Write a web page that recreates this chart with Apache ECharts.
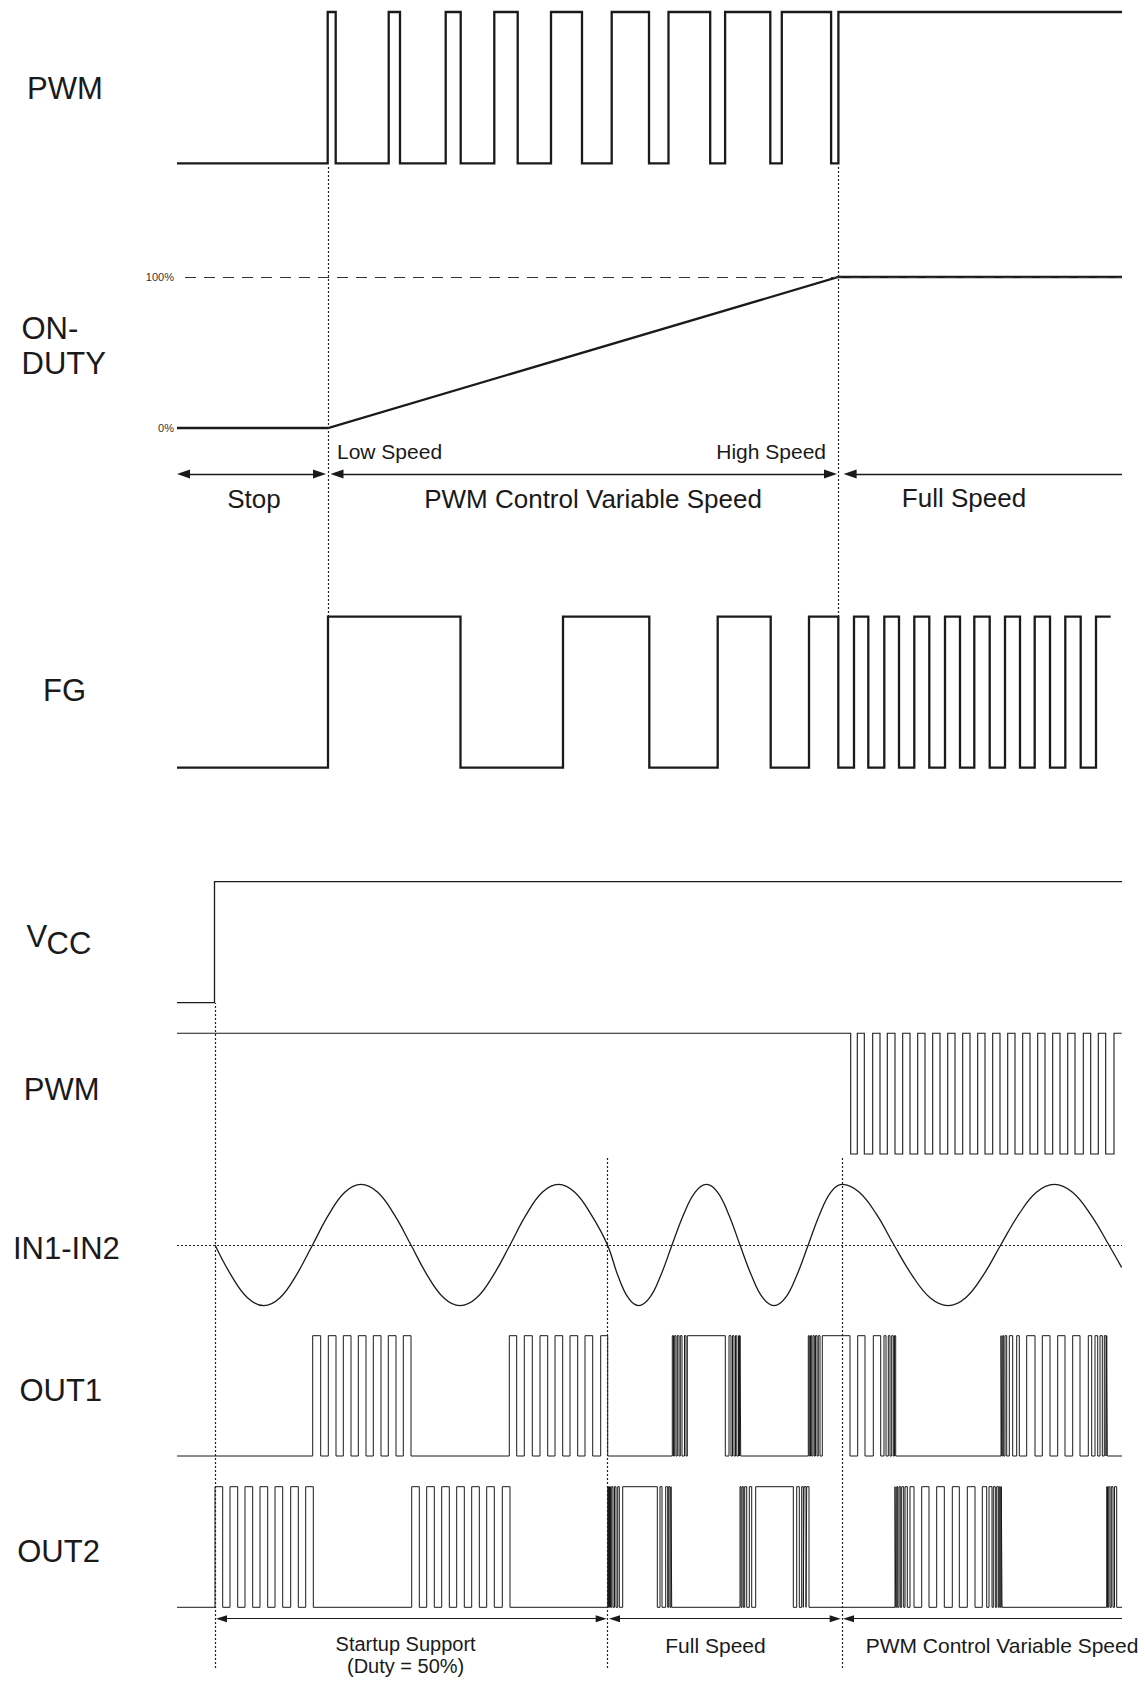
<!DOCTYPE html>
<html><head><meta charset="utf-8">
<script src="https://cdn.jsdelivr.net/npm/echarts@6/dist/echarts.min.js"></script>
<style>html,body{margin:0;padding:0;background:#fff}#c{width:1145px;height:1686px}</style>
</head><body><div id="c"></div><script>
// ---------- data (time units on a common horizontal scale) ----------
const timeRange = [177, 1122];
// top section
const topPwmHigh = [[327.7,335.7],[388.7,400],[445.7,460.7],[494.3,517.7],[551,582],[611.7,649],[668.5,710.2],[725.1,770.3],[781.8,831.1],[838.4,1122]];
const dutyTime = [177, 328, 838.4, 1122];
const dutyValue = [0, 0, 100, 100];
const dutyTicks = [0, 100];
const fgHigh = [[328,460.5],[563,649.3],[717.7,770.7],[809,838.3],[854,868.3],[884.3,899],[914.3,929.3],[945,960],[974.3,989.7],[1005,1020],[1034.7,1050],[1065.3,1080.7],[1096,1110.7]];
const fgEnd = 1110.7;
const topMarks = [328, 838.4];
const topArrows = [[177,326,'both'],[330.5,837,'both'],[843.6,1122,'left']];
// bottom section
const vccHigh = [[214.5,1122]];
const botPwmHigh = [[177,850.7],[857.3,864.3],[872.7,880],[887.3,895],[902.7,910],[917.7,925],[932.7,940],[947.7,955],[962.7,970],[977.7,985],[992.7,1000],[1007.7,1015],[1022.7,1030],[1037.7,1045],[1052.7,1060],[1067.7,1075],[1083.3,1090.7],[1098.3,1105.7],[1114,1121.7]];
const botPwmEnd = 1121.7;
// IN1-IN2 readings (normalised amplitude) along the curve
const inTime = [215,231.2,247.5,263.7,280,296.2,312.5,328.7,344.8,361,377.7,394.3,411,427.3,443.7,460,476.7,493.3,510,526.2,542.3,558.5,574.8,591.2,607.5,
  617.8,628.2,638.5,649.7,660.8,672,683.5,695,706.5,717.7,728.8,740,751.4,762.7,774.1,785.5,796.8,808.2,819.5,830.7,842,
  859.3,876.7,894,912.1,930.1,948.2,965.7,983.2,1000.7,1018.6,1036.4,1054.3,1072.5,1090.7,1108.9,1121.6];
const inValue = [0,-0.5,-0.87,-1,-0.87,-0.5,0,0.5,0.87,1,0.87,0.5,0,-0.5,-0.87,-1,-0.87,-0.5,0,0.5,0.87,1,0.87,0.5,0,
  -0.5,-0.87,-1,-0.87,-0.5,0,0.5,0.87,1,0.87,0.5,0,-0.5,-0.87,-1,-0.87,-0.5,0,0.5,0.87,1,
  0.87,0.5,0,-0.5,-0.87,-1,-0.87,-0.5,0,0.5,0.87,1,0.87,0.5,0,-0.37];
const out1High = [
 [312.7,320.7],[328.3,336],[343.3,351],[358.3,366],[373.3,381],[388.3,396],[403.3,411],
 [509.3,516.7],[524.3,532.3],[540,547.7],[555,562.7],[570,577.7],[585,592.7],[600.7,607.7],
 [672.3,673.5],[674.7,676],[677.3,679],[680.3,682],[684.5,686],[687.3,725.3],[729,731],[732.5,734],[735.5,736.8],[738.5,739.5],[740,740.7],
 [808.3,809.3],[810.5,811.7],[813,814.3],[815.5,817],[818.3,820],[822.3,850],[857.7,865],[873.3,880.7],[884,886],[888.3,890],[891.7,893.3],[894.5,895.7],
 [1001,1001.7],[1002.7,1003.7],[1005,1006.7],[1009.3,1012.7],[1016.7,1019.3],[1026.7,1035],[1042.3,1050],[1057.7,1065],[1072.7,1080],[1088.3,1091.7],[1095,1097.7],[1100,1102.3],[1104.3,1106],[1106.7,1107.3]
];
const out2High = [
 [215,222.7],[230,237.7],[245,252.7],[260,267.7],[275,282.7],[290.7,298.3],[305.7,313.3],
 [411.7,419.3],[426.7,434.3],[441.7,449.3],[456.7,464.3],[471.7,479.3],[486.7,494.3],[502.3,510],
 [607.7,608.5],[609.5,610.5],[611.7,613],[614.5,616],[617.7,619.3],[622.7,657.3],[660,662],[665.7,667.7],[668.7,670],[671,671.7],
 [740,741],[742,743.3],[744.7,746.7],[749.3,751.7],[755.7,793.3],[796.7,799.3],[801.7,803.3],[804,806],[806.7,809],
 [895,895.7],[896.7,897.7],[899,900.3],[901.7,903.7],[905,907.3],[910,914],[921.7,929],[936.7,944.3],[952.3,959.3],[967.3,975],[982.3,986.7],[989,992],[993.3,995.3],[996.7,998.3],[999.3,1000.3],[1001.3,1002],
 [1106.7,1107.5],[1108.7,1110],[1111.3,1113],[1114.5,1116.7]
];
const startMark = [215];
const phaseMarks = [607.5, 842.4];
const botArrows = [[216,606.7,'both'],[609,840.7,'both'],[843,1122,'left']];

// ---------- helpers ----------
function steps(intervals, start, end) {
  const pts = [];
  if (intervals[0][0] > start) pts.push([start, 0]);
  intervals.forEach(function (iv) {
    const r = iv[0], f = iv[1];
    if (r > start) pts.push([r, 0]);
    pts.push([r, 1]); pts.push([f, 1]);
    if (f < end) pts.push([f, 0]);
  });
  if (intervals[intervals.length - 1][1] < end) pts.push([end, 0]);
  return pts;
}
const FONT = '"Liberation Sans", Arial, Helvetica, sans-serif';
const INK = '#1a1a1a';
const grids = [], xAxes = [], yAxes = [], series = [];
function addGrid(top, height, ymin, ymax, yExtra) {
  const i = grids.length;
  grids.push({left: 177, width: 945, top: top, height: height, containLabel: false});
  xAxes.push({type: 'value', gridIndex: i, min: timeRange[0], max: timeRange[1], show: false});
  yAxes.push(Object.assign({type: 'value', gridIndex: i, min: ymin, max: ymax, show: false}, yExtra || {}));
  return i;
}
function wave(i, data, width, extra) {
  series.push(Object.assign({
    type: 'line', xAxisIndex: i, yAxisIndex: i, data: data, symbol: 'none', showSymbol: false,
    clip: false, animation: false, silent: true,
    lineStyle: {color: INK, width: width, join: 'miter'}
  }, extra || {}));
}
function arrowRow(i, list, size, width) {
  series.push({
    type: 'line', xAxisIndex: i, yAxisIndex: i, data: [], animation: false, silent: true,
    markLine: {
      silent: true, animation: false, label: {show: false},
      lineStyle: {color: INK, width: width, type: 'solid'},
      data: list.map(function (a) {
        const h = size[1] / 2;
        const from = a[0] + h;
        const to = a[2] === 'both' ? a[1] - h : a[1];
        return [
          {coord: [from, 0.5], symbol: 'triangle', symbolSize: size},
          {coord: [to, 0.5], symbol: a[2] === 'both' ? 'triangle' : 'none', symbolSize: size}
        ];
      })
    }
  });
}
function guides(i, xs) {
  series.push({
    type: 'line', xAxisIndex: i, yAxisIndex: i, data: [], animation: false, silent: true,
    markLine: {
      silent: true, animation: false, symbol: 'none', label: {show: false},
      lineStyle: {color: '#222', width: 1.2, type: [2, 2]},
      data: xs.map(function (x) { return {xAxis: x}; })
    }
  });
}

// ---------- top section ----------
const gTopPwm = addGrid(12, 151.3, 0, 1);
wave(gTopPwm, steps(topPwmHigh, timeRange[0], timeRange[1]), 2.3);

const gDuty = addGrid(277, 151, 0, 100, {
  show: true, interval: 100,
  axisLine: {show: false}, axisTick: {show: false}, splitLine: {show: false},
  axisLabel: {formatter: '{value}%', fontSize: 11, margin: 3, color: '#333', fontFamily: FONT}
});
wave(gDuty, dutyTime.map(function (t, k) { return [t, dutyValue[k]]; }), 2.3, {
  markLine: {
    silent: true, animation: false, symbol: 'none', label: {show: false},
    lineStyle: {color: '#333', width: 1.1, type: [11, 8]},
    data: [[{coord: [185, dutyTicks[1]]}, {coord: [timeRange[1], dutyTicks[1]]}]]
  },
  z: 3
});

const gFg = addGrid(616.7, 151, 0, 1);
wave(gFg, steps(fgHigh, timeRange[0], fgEnd), 2.3);

const gTopArrow = addGrid(468, 12, 0, 1);
arrowRow(gTopArrow, topArrows, [9, 13], 1.3);

const gTopGuide = addGrid(165, 452, 0, 1);
guides(gTopGuide, topMarks);

// ---------- bottom section ----------
const gVcc = addGrid(881.7, 121, 0, 1);
wave(gVcc, steps(vccHigh, timeRange[0], timeRange[1]), 1.3);

const gBotPwm = addGrid(1033.3, 120.7, 0, 1);
wave(gBotPwm, steps(botPwmHigh, timeRange[0], botPwmEnd), 1.1);

const gIn = addGrid(1184.4, 121.2, -1, 1);
wave(gIn, inTime.map(function (t, k) { return [t, inValue[k]]; }), 1.3, {
  smooth: 0.4,
  markLine: {
    silent: true, animation: false, symbol: 'none', label: {show: false},
    lineStyle: {color: '#222', width: 1.2, type: [2, 2]},
    data: [{yAxis: 0}]
  }
});

const gOut1 = addGrid(1335.7, 120.3, 0, 1);
wave(gOut1, steps(out1High, timeRange[0], timeRange[1]), 1.0);

const gOut2 = addGrid(1486.7, 120.6, 0, 1);
wave(gOut2, steps(out2High, timeRange[0], timeRange[1]), 1.0);

const gBotArrow = addGrid(1612.7, 12, 0, 1);
arrowRow(gBotArrow, botArrows, [7, 11], 1.1);

const gGuideA = addGrid(1003, 665, 0, 1);
guides(gGuideA, startMark);
const gGuideB = addGrid(1157, 511, 0, 1);
guides(gGuideB, phaseMarks);

// ---------- text ----------
function txt(x, y, s, size, align, extra) {
  return Object.assign({
    type: 'text', x: x, y: y, silent: true,
    style: {text: s, fontSize: size, fontFamily: FONT, fill: INK, align: align || 'left', verticalAlign: 'middle'}
  }, extra || {});
}
const graphic = [
  txt(27, 88, 'PWM', 31),
  txt(21.5, 328, 'ON-', 31),
  txt(21.5, 363, 'DUTY', 31),
  txt(43, 690, 'FG', 31),
  txt(337, 451, 'Low Speed', 21),
  txt(826, 451, 'High Speed', 21, 'right'),
  txt(254, 499, 'Stop', 26, 'center'),
  txt(593, 499, 'PWM Control Variable Speed', 26, 'center'),
  txt(964, 498, 'Full Speed', 26, 'center'),
  txt(26.5, 936.5, 'V', 31),
  txt(46.5, 943.5, 'CC', 31),
  txt(23.7, 1089, 'PWM', 31),
  txt(13, 1248, 'IN1-IN2', 31),
  txt(19.4, 1390, 'OUT1', 31),
  txt(17.2, 1551.6, 'OUT2', 31),
  txt(405.6, 1644, 'Startup Support', 20, 'center'),
  txt(405.6, 1666, '(Duty = 50%)', 20, 'center'),
  txt(715.5, 1645, 'Full Speed', 21, 'center'),
  txt(1002, 1645, 'PWM Control Variable Speed', 21, 'center')
];

const chart = echarts.init(document.getElementById('c'), null, {renderer: 'svg', width: 1145, height: 1686});
chart.setOption({
  animation: false,
  backgroundColor: '#fff',
  grid: grids, xAxis: xAxes, yAxis: yAxes, series: series, graphic: graphic
});
</script></body></html>
